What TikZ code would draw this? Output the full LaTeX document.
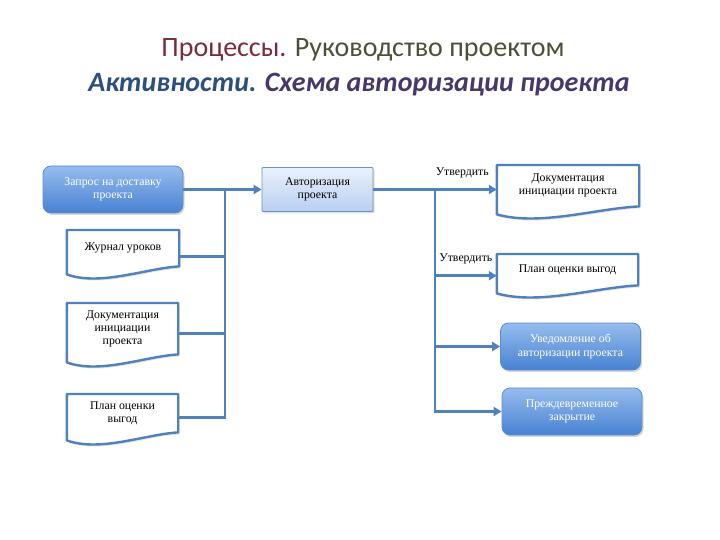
\documentclass[tikz,border=0pt]{standalone}
\usepackage{fontspec}
\setmainfont{Liberation Serif}
\newfontfamily\titlefont{Carlito}
\usetikzlibrary{arrows.meta,calc,shadows,backgrounds}
\definecolor{flowBlue}{RGB}{79,129,189}
\definecolor{boxTop}{RGB}{150,188,238}
\definecolor{boxBottom}{RGB}{72,130,210}
\definecolor{boxEdge}{RGB}{90,140,205}
\definecolor{authTop}{RGB}{234,241,252}
\definecolor{authBottom}{RGB}{184,207,240}
\definecolor{authEdge}{RGB}{110,145,195}
\definecolor{procRed}{RGB}{123,44,58}
\definecolor{procGrey}{RGB}{78,78,58}
\definecolor{actBlue}{RGB}{44,79,127}
\definecolor{actPurple}{RGB}{72,55,105}
\tikzset{
    every node/.append style={align=center},
    boxfont/.style={font=\fontsize{11.8}{13.2}\selectfont},
    proc/.style={rectangle,rounded corners=8pt,draw=boxEdge,line width=0.8pt,top color=boxTop,
        bottom color=boxBottom,text=white,boxfont,minimum width=140pt,minimum height=47pt,
        drop shadow={opacity=0.3,shadow xshift=1.5pt,shadow yshift=-2pt}},
    authbox/.style={rectangle,rounded corners=1pt,draw=authEdge,line width=0.8pt,top color=authTop,
        bottom color=authBottom,boxfont,minimum width=111pt,minimum height=44pt,
        drop shadow={opacity=0.25,shadow xshift=1.5pt,shadow yshift=-2pt}},
    doc/.style={rectangle,draw=none,boxfont,minimum width=112pt,inner sep=2pt,anchor=north},
    docline/.style={draw=flowBlue,line width=2.4pt,fill=white,line join=round,
        drop shadow={opacity=0.2,shadow xshift=1.5pt,shadow yshift=-2pt}},
    flow/.style={draw=flowBlue,line width=2.6pt},
    flowarr/.style={flow,-{Triangle[length=8pt,width=9pt]}},
    lbl/.style={boxfont,inner sep=1pt}
}
\begin{document}
\begin{tikzpicture}[x=1pt,y=-1pt]
    \useasboundingbox (0,0) rectangle (720,540);
    % title
    \node[font=\titlefont\fontsize{28}{32}\selectfont] (title) at (363,50)
        {\textcolor{procRed}{Процессы.} \textcolor{procGrey}{Руководство проектом}};
    \node[font=\titlefont\bfseries\itshape\fontsize{28}{32}\selectfont] (subtitle) at (359,85)
        {\textcolor{actBlue}{Активности.} \textcolor{actPurple}{Схема авторизации проекта}};

    % inputs
    \node[proc]                                   (request)  at (113,189.5)   {Запрос на доставку\\проекта};
    \node[doc,minimum height=36pt]                (lessons)  at (123,230)     {Журнал уроков};
    \node[doc,minimum width=111pt,minimum height=51pt] (initL) at (122.5,303) {Документация\\инициации\\проекта};
    \node[doc,minimum width=111pt,minimum height=38pt] (benefitL) at (122.5,394) {План оценки\\выгод};
    % activity
    \node[authbox]                                (auth)     at (317.5,189.5) {Авторизация\\проекта};
    % outputs
    \node[doc,minimum width=142pt,minimum height=41pt] (initR) at (568,165)    {Документация\\инициации проекта};
    \node[doc,minimum width=141pt,minimum height=31pt] (benefitR) at (567.5,254) {План оценки выгод};
    \node[proc]                                   (notify)   at (570.5,346.5) {Уведомление об\\авторизации проекта};
    \node[proc]                                   (early)    at (572,411.5)   {Преждевременное\\закрытие};

    % document outlines with wavy bottom
    \begin{scope}[on background layer]
        \foreach \d in {lessons,initL,benefitL,initR,benefitR}
            \draw[docline] ($(\d.south west)+(0,8)$) -- (\d.north west) -- (\d.north east) -- (\d.south east)
                .. controls ($(\d.south east)!0.3!(\d.south west)+(0,2)$) and ($(\d.south west)!0.3!(\d.south east)+(0,20)$)
                .. ($(\d.south west)+(0,8)$) -- cycle;
    \end{scope}

    \coordinate (lbus) at (225,0);
    \coordinate (rbus) at (435,0);
    \coordinate (lessonsOut)  at ($(lessons.east)+(0,8)$);
    \coordinate (initLOut)    at ($(initL.east)+(0,5)$);
    \coordinate (benefitLOut) at ($(benefitL.east)+(0,4)$);
    \coordinate (benefitRIn)  at ($(benefitR.west)+(0,6)$);

    % left bus
    \draw[flowarr] (request.east) -- (auth.west);
    \draw[flow] (lbus |- request.east) |- (benefitLOut);
    \draw[flow] (lessonsOut) -- (lessonsOut -| lbus);
    \draw[flow] (initLOut) -- (initLOut -| lbus);

    % right bus
    \draw[flowarr] (auth.east) -- node[lbl,pos=0.72,above=9pt]{Утвердить} (auth.east -| initR.west);
    \draw[flowarr] (rbus |- auth.east) |- (early.west);
    \draw[flowarr] (rbus |- benefitRIn) -- node[lbl,pos=0.5,above=9pt]{Утвердить} (benefitRIn);
    \draw[flowarr] (rbus |- notify.west) -- (notify.west);
\end{tikzpicture}
\end{document}
